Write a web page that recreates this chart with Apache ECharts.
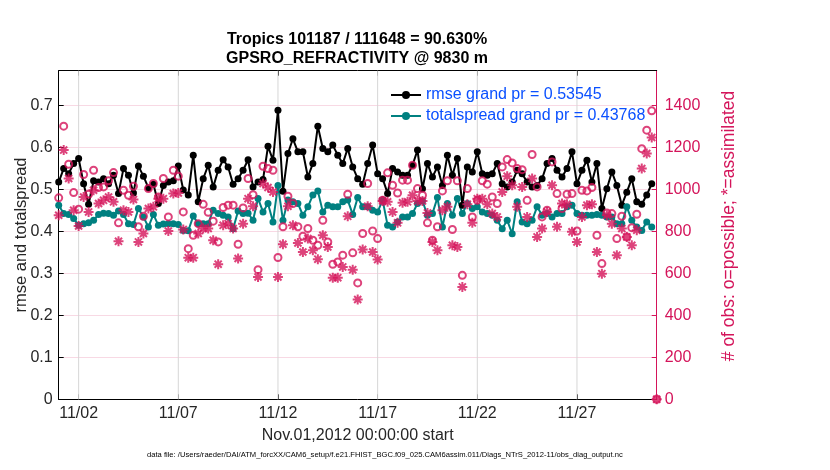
<!DOCTYPE html>
<html>
<head>
<meta charset="utf-8">
<script src="https://cdn.jsdelivr.net/npm/echarts@6/dist/echarts.min.js"></script>
<style>
html,body{margin:0;padding:0;background:#fff;}
#chart{width:830px;height:470px;}
</style>
</head>
<body>
<div id="chart"></div>
<script>
// ---- data (one value every 6 hours, Nov 1 00:00 .. Dec 1 00:00) ----
const stepDays = 0.25;
const rmse = [
0.517,0.549,0.537,0.561,0.573,0.513,0.464,0.520,0.517,0.525,
0.513,0.533,0.490,0.549,0.533,0.491,0.555,0.531,0.503,0.512,
0.466,0.509,0.517,0.520,0.555,0.498,0.486,0.581,0.470,0.525,
0.557,0.505,0.545,0.570,0.553,0.512,0.525,0.545,0.570,0.505,
0.517,0.523,0.602,0.569,0.688,0.495,0.585,0.620,0.589,0.589,
0.529,0.561,0.650,0.597,0.589,0.605,0.581,0.561,0.597,0.553,
0.525,0.512,0.561,0.605,0.537,0.525,0.490,0.549,0.541,0.533,
0.533,0.557,0.593,0.501,0.561,0.529,0.553,0.509,0.581,0.533,
0.573,0.462,0.553,0.541,0.589,0.537,0.533,0.537,0.561,0.513,
0.505,0.517,0.545,0.537,0.517,0.505,0.509,0.525,0.561,0.573,
0.545,0.529,0.549,0.589,0.513,0.545,0.569,0.517,0.561,0.454,
0.501,0.541,0.509,0.462,0.493,0.525,0.470,0.464,0.486,0.513,
null];
const totalspread = [
0.462,0.442,0.440,0.430,0.414,0.418,0.420,0.426,0.440,0.443,
0.442,0.438,0.448,0.440,0.418,0.416,0.454,0.434,0.410,0.440,
0.414,0.417,0.418,0.418,0.416,0.402,0.401,0.436,0.418,0.418,
0.418,0.450,0.442,0.438,0.434,0.406,0.448,0.442,0.443,0.426,
0.478,0.446,0.466,0.422,0.509,0.426,0.474,0.470,0.466,0.438,
0.458,0.486,0.496,0.446,0.462,0.458,0.458,0.470,0.474,0.440,
0.480,0.458,0.458,0.450,0.446,0.474,0.414,0.410,0.422,0.434,
0.434,0.442,0.466,0.472,0.438,0.442,0.480,0.410,0.466,0.438,
0.478,0.442,0.466,0.454,0.458,0.446,0.442,0.438,0.426,0.406,
0.426,0.394,0.470,0.422,0.418,0.426,0.458,0.438,0.442,0.434,
0.442,0.442,0.458,0.462,0.442,0.438,0.438,0.438,0.440,0.438,
0.434,0.434,0.418,0.418,0.458,0.426,0.410,0.402,0.422,0.410,
null];
const obsPossible = [
959,1300,1119,984,905,1070,976,1090,1008,1011,
1040,1079,840,995,971,1014,821,871,1003,1027,
963,1051,868,1090,1062,892,717,781,836,928,
890,848,749,913,924,924,738,911,1051,974,
617,1109,1098,1090,675,821,967,932,821,776,
813,757,733,852,749,643,654,686,976,697,
554,789,1027,801,765,947,1078,1019,982,1043,
1043,1114,1003,971,840,757,821,992,1040,808,
1040,590,1003,868,947,1040,1024,963,932,1106,
1141,1125,1098,1093,947,1165,1011,868,900,1130,
979,908,976,979,801,995,992,1008,781,646,
887,884,765,871,773,817,881,1193,1281,1373,
0];
const obsAssimilated = [
876,1186,1051,900,825,963,892,995,932,947,
963,940,752,900,892,951,749,789,908,916,
955,955,801,979,982,808,674,674,789,813,
813,757,643,828,836,813,670,836,955,919,
582,1027,1008,987,582,738,919,828,744,701,
765,709,667,781,725,579,579,630,871,617,
475,713,919,701,665,944,940,892,840,935,
940,971,944,944,887,749,709,900,916,733,
725,535,928,840,955,955,928,884,868,987,
1062,1019,916,1011,868,1051,773,813,892,1019,
821,932,928,797,749,868,924,928,701,598,
876,836,686,813,773,733,805,1098,1170,1246,
0];
const tickDays = [1, 6, 11, 16, 21, 26];
const tickLabels = ['11/02', '11/07', '11/12', '11/17', '11/22', '11/27'];
const leftTicks = [0, 0.1, 0.2, 0.3, 0.4, 0.5, 0.6, 0.7];
const rightTicks = [0, 200, 400, 600, 800, 1000, 1200, 1400];
const rmseName = 'rmse grand pr = 0.53545';
const spreadName = 'totalspread grand pr = 0.43768';
const titleText = 'Tropics 101187 / 111648 = 90.630%\nGPSRO_REFRACTIVITY @ 9830 m';
const xName = 'Nov.01,2012 00:00:00 start';
const leftName = 'rmse and totalspread';
const rightName = '# of obs: o=possible; *=assimilated';
const footer = 'data file: /Users/raeder/DAI/ATM_forcXX/CAM6_setup/f.e21.FHIST_BGC.f09_025.CAM6assim.011/Diags_NTrS_2012-11/obs_diag_output.nc';

// ---- helpers ----
const pairs = arr => arr.map((v, i) => [i * stepDays, v]);
const CRIMSON = '#d4145a';
const TEAL = '#008080';
const FONT = '"Liberation Sans", Arial, Helvetica, sans-serif';
const asterisk = 'path://M-1,-0.2L1,-0.2L1,0.2L-1,0.2Z' +
  'M0.2,-1L0.2,1L-0.2,1L-0.2,-1Z' +
  'M-0.566,-0.849L0.849,0.566L0.566,0.849L-0.849,-0.566Z' +
  'M-0.849,0.566L0.566,-0.849L0.849,-0.566L-0.566,0.849Z';

const chart = echarts.init(document.getElementById('chart'), null, {renderer: 'canvas'});
chart.setOption({
  backgroundColor: '#ffffff',
  animation: false,
  textStyle: {fontFamily: FONT},
  title: {
    text: titleText,
    left: 352, top: 25, textAlign: 'center',
    textStyle: {fontSize: 16, fontWeight: 'bold', color: '#000', lineHeight: 19, fontFamily: FONT}
  },
  grid: {left: 58.7, right: 173.3, top: 70.7, bottom: 70.7, show: false,
         containLabel: false, outerBoundsMode: 'none'},
  legend: {
    data: [rmseName, spreadName],
    orient: 'vertical', left: 385, top: 82, itemWidth: 30, itemHeight: 10, itemGap: 5,
    textStyle: {color: '#0a50ff', fontSize: 16, fontFamily: FONT},
    backgroundColor: 'transparent', borderWidth: 0
  },
  xAxis: [{
    type: 'value', min: 0, max: 30, position: 'bottom',
    name: xName, nameLocation: 'middle', nameGap: 28,
    nameTextStyle: {fontSize: 16, color: '#262626'},
    axisLine: {show: true, onZero: false, lineStyle: {color: '#000', width: 1}},
    axisTick: {show: true, inside: true, length: 5, customValues: tickDays, lineStyle: {color: '#000'}},
    axisLabel: {show: true, customValues: tickDays, fontSize: 16, color: '#262626', margin: 6,
      formatter: v => tickLabels[tickDays.indexOf(Math.round(v))] || ''},
    splitLine: {show: false}
  }, {
    type: 'value', min: 0, max: 30, position: 'top',
    axisLine: {show: true, onZero: false, lineStyle: {color: '#000', width: 1}},
    axisTick: {show: true, inside: true, length: 5, customValues: tickDays, lineStyle: {color: '#000'}},
    axisLabel: {show: false}, splitLine: {show: false}
  }],
  yAxis: [{
    type: 'value', min: 0, max: 0.782, interval: 0.1, position: 'left',
    name: leftName, nameLocation: 'middle', nameGap: 29, nameMoveOverlap: false,
    nameTextStyle: {fontSize: 16.5, color: '#262626'},
    axisLine: {show: true, onZero: false, lineStyle: {color: '#000', width: 1}},
    axisTick: {show: true, inside: true, length: 5, lineStyle: {color: '#000'}},
    axisLabel: {fontSize: 16, color: '#262626', margin: 6, showMaxLabel: false,
      formatter: v => (leftTicks.some(t => Math.abs(t - v) < 1e-6) ? String(Math.round(v * 10) / 10) : '')},
    splitLine: {show: true, lineStyle: {color: 'rgba(212,20,90,0.16)', width: 1}}
  }, {
    type: 'value', min: 0, max: 1564, interval: 200, position: 'right',
    name: rightName, nameLocation: 'middle', nameGap: 63,
    nameTextStyle: {fontSize: 17.5, color: CRIMSON, padding: [0, 0, 0, 18]},
    axisLine: {show: true, onZero: false, lineStyle: {color: CRIMSON, width: 1}},
    axisTick: {show: true, inside: true, length: 5, lineStyle: {color: CRIMSON}},
    axisLabel: {fontSize: 16, color: CRIMSON, margin: 8, showMaxLabel: false,
      formatter: v => (rightTicks.indexOf(Math.round(v)) >= 0 ? String(Math.round(v)) : '')},
    splitLine: {show: false}
  }],
  series: [{
    name: 'dategrid', type: 'custom', xAxisIndex: 0, yAxisIndex: 0, z: 1, silent: true,
    data: tickDays.map(d => [d, 0]),
    encode: {x: 0, y: 1},
    renderItem: (params, api) => {
      const x = api.coord([api.value(0), 0])[0];
      const cs = params.coordSys;
      return {type: 'line', shape: {x1: x, y1: cs.y, x2: x, y2: cs.y + cs.height},
              style: {stroke: '#d6d6d6', lineWidth: 1}};
    }
  }, {
    name: rmseName, type: 'line', data: pairs(rmse), yAxisIndex: 0, z: 3,
    symbol: 'circle', symbolSize: 7, showSymbol: true, connectNulls: false,
    itemStyle: {color: '#000'}, lineStyle: {color: '#000', width: 2}
  }, {
    name: spreadName, type: 'line', data: pairs(totalspread), yAxisIndex: 0, z: 3,
    symbol: 'circle', symbolSize: 7, showSymbol: true, connectNulls: false,
    itemStyle: {color: TEAL}, lineStyle: {color: TEAL, width: 2}
  }, {
    name: 'possible', type: 'scatter', data: pairs(obsPossible), yAxisIndex: 1, z: 4,
    symbol: 'circle', symbolSize: 7,
    itemStyle: {color: 'rgba(255,255,255,0)', borderColor: CRIMSON, borderWidth: 2}
  }, {
    name: 'assimilated', type: 'scatter', data: pairs(obsAssimilated), yAxisIndex: 1, z: 4,
    symbol: asterisk, symbolSize: 10,
    itemStyle: {color: CRIMSON}
  }],
  graphic: [{
    type: 'text', left: 147, top: 451,
    style: {text: footer, fontSize: 7.6, fill: '#000', fontFamily: FONT}
  }]
});
</script>
</body>
</html>
